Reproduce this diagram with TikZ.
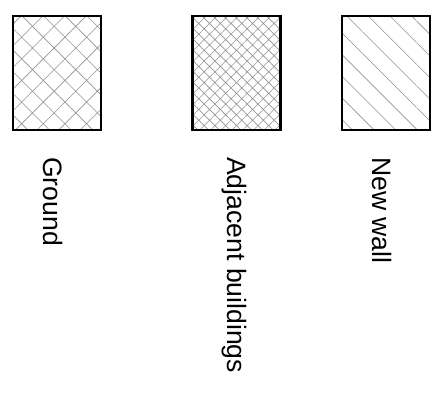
\documentclass[tikz,border=0pt]{standalone}
\usepackage{fontspec}
\setmainfont{Liberation Sans}
\usepackage{tikz}
\usetikzlibrary{patterns.meta}

\begin{document}
\begin{tikzpicture}[
        x=1pt, y=1pt,
        every node/.style={font=\fontsize{26.6}{32}\selectfont},
        swatch/.style={draw, line width=2.2pt, minimum width=88pt, minimum height=114pt, inner sep=0pt, pattern color=gray!85},
        legendtext/.style={rotate=-90, anchor=base west, inner sep=0pt},
    ]
        \useasboundingbox (0,0) rectangle (446,405);

        % --- Hatched swatches ---
        \node[swatch, pattern={Hatch[angle=45, distance=15.3pt, line width=0.6pt]}]  (ground)   at (57,332)    {};
        \node[swatch, pattern={Hatch[angle=45, distance=7.6pt, line width=0.6pt]}]   (adjacent) at (236.5,332) {};
        \node[swatch, pattern={Lines[angle=-45, distance=15.3pt, line width=0.6pt]}] (newwall)  at (386,332)   {};

        % --- Legend texts ---
        \node[legendtext] (groundtext)   at (43,248)  {Ground};
        \node[legendtext] (adjacenttext) at (227,248) {Adjacent buildings};
        \node[legendtext] (newwalltext)  at (372,248) {New wall};

    \end{tikzpicture}
\end{document}
